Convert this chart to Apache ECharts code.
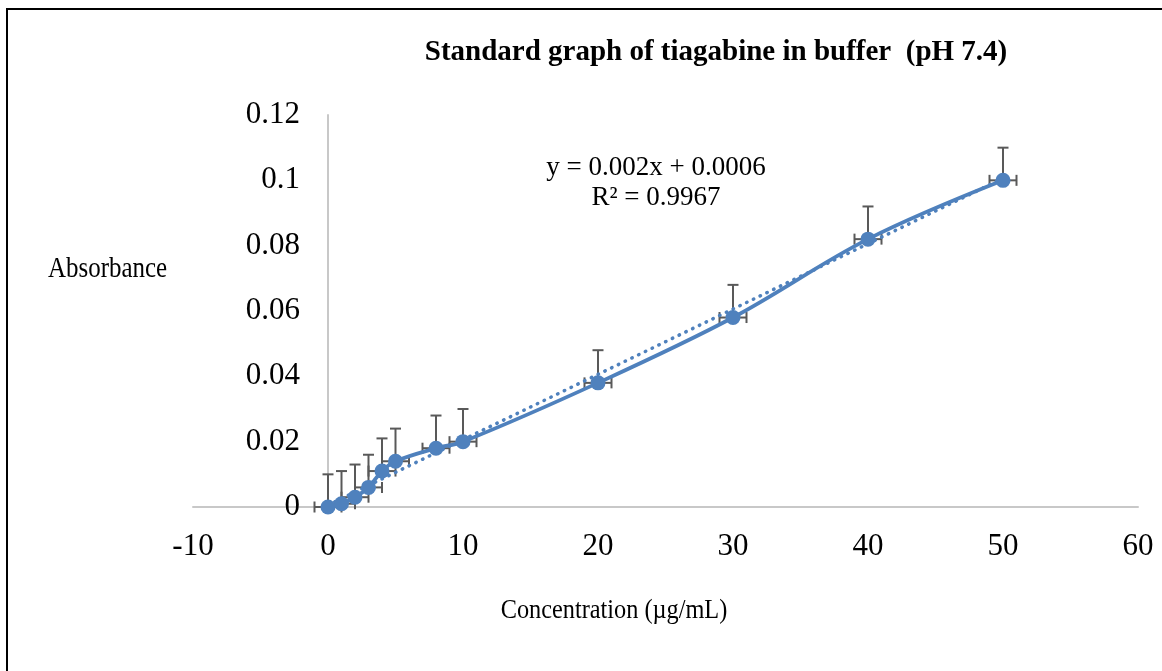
<!DOCTYPE html>
<html>
<head>
<meta charset="utf-8">
<script src="https://cdn.jsdelivr.net/npm/echarts@6/dist/echarts.min.js"></script>
<style>
html,body{margin:0;padding:0;background:#fff;}
#chart{width:1162px;height:671px;}
</style>
</head>
<body>
<div id="chart"></div>
<script>
// Data
const concentrations = [0, 1, 2, 3, 4, 5, 8, 10, 20, 30, 40, 50];
const absorbances = [0, 0.001, 0.003, 0.006, 0.011, 0.014, 0.018, 0.020, 0.038, 0.058, 0.082, 0.100];
const yErrorUp = [0.01, 0.01, 0.01, 0.01, 0.01, 0.01, 0.01, 0.01, 0.01, 0.01, 0.01, 0.01];
const xErrors = [1, 1, 1, 1, 1, 1, 1, 1, 1, 1, 1, 1];
const trendX = [0, 50];
const trendY = [0.0006, 0.1006];
const xTickLabels = ['-10', '0', '10', '20', '30', '40', '50', '60'];
const yTickLabels = ['0', '0.02', '0.04', '0.06', '0.08', '0.1', '0.12'];
const titleText = 'Standard graph of tiagabine in buffer  (pH 7.4)';
const equationText = 'y = 0.002x + 0.0006';
const r2Text = 'R² = 0.9967';
const yName = 'Absorbance';
const xName = 'Concentration (µg/mL)';

const blue = '#4F81BD';
const errColor = '#595959';
const serif = '"Liberation Serif", "Times New Roman", serif';

const mainData = concentrations.map((x, i) => [x, absorbances[i]]);
const errData = concentrations.map((x, i) => [x, absorbances[i], yErrorUp[i], xErrors[i]]);
const trendData = trendX.map((x, i) => [x, trendY[i]]);

const chart = echarts.init(document.getElementById('chart'), null, {renderer: 'canvas'});

function renderErr(params, api) {
  const x = api.value(0), y = api.value(1), ey = api.value(2), ex = api.value(3);
  const p = api.coord([x, y]);
  const top = api.coord([x, y + ey]);
  const l = api.coord([x - ex, y]);
  const r = api.coord([x + ex, y]);
  const cap = 5.5;
  const st = {stroke: errColor, lineWidth: 2};
  return {
    type: 'group',
    children: [
      {type: 'line', shape: {x1: p[0], y1: p[1], x2: top[0], y2: top[1]}, style: st},
      {type: 'line', shape: {x1: top[0] - cap, y1: top[1], x2: top[0] + cap, y2: top[1]}, style: st},
      {type: 'line', shape: {x1: l[0], y1: l[1], x2: r[0], y2: r[1]}, style: st},
      {type: 'line', shape: {x1: l[0], y1: l[1] - cap, x2: l[0], y2: l[1] + cap}, style: st},
      {type: 'line', shape: {x1: r[0], y1: r[1] - cap, x2: r[0], y2: r[1] + cap}, style: st}
    ]
  };
}

const option = {
  backgroundColor: '#fff',
  animation: false,
  grid: {left: 193, right: 24, top: 115, bottom: 164, containLabel: false},
  xAxis: {
    type: 'value', min: -10, max: 60, interval: 10,
    axisLine: {show: true, onZero: true, lineStyle: {color: '#c8c8c8', width: 2}},
    axisTick: {show: false},
    splitLine: {show: false},
    axisLabel: {
      color: '#000', fontFamily: serif, fontSize: 31, margin: 24,
      formatter: (v) => xTickLabels[Math.round((v + 10) / 10)]
    }
  },
  yAxis: {
    type: 'value', min: 0, max: 0.12, interval: 0.02,
    axisLine: {show: true, onZero: true, lineStyle: {color: '#c8c8c8', width: 2}},
    axisTick: {show: false},
    splitLine: {show: false},
    axisLabel: {
      color: '#000', fontFamily: serif, fontSize: 31, margin: -107, align: 'right',
      padding: [4, 0, 0, 0],
      formatter: (v) => yTickLabels[Math.round(v / 0.02)]
    }
  },
  series: [
    {
      type: 'custom', name: 'err', renderItem: renderErr, data: errData,
      encode: {x: 0, y: 1}, z: 1, silent: true
    },
    {
      type: 'line', name: 'trend', data: trendData, showSymbol: false, symbol: 'none',
      lineStyle: {color: blue, width: 3.5, type: [0.5, 7], cap: 'round'}, z: 2, silent: true
    },
    {
      type: 'line', name: 'abs', data: mainData, smooth: 0.35,
      symbol: 'circle', symbolSize: 15,
      itemStyle: {color: blue},
      lineStyle: {color: blue, width: 3.8}, z: 3
    }
  ],
  graphic: [
    {type: 'rect', shape: {x: 7, y: 9, width: 1200, height: 720},
     style: {fill: 'none', stroke: '#000', lineWidth: 2}, silent: true, z: 100},
    {type: 'text', x: 716, y: 53,
     style: {text: titleText, fill: '#000', font: 'bold 29px ' + serif, align: 'center', verticalAlign: 'middle'}},
    {type: 'text', x: 656, y: 168,
     style: {text: equationText, fill: '#000', font: '27px ' + serif, align: 'center', verticalAlign: 'middle'}},
    {type: 'text', x: 656, y: 198,
     style: {text: r2Text, fill: '#000', font: '27px ' + serif, align: 'center', verticalAlign: 'middle'}},
    {type: 'text', x: 48, y: 269, scaleX: 0.86,
     style: {text: yName, fill: '#000', font: '29px ' + serif, align: 'left', verticalAlign: 'middle'}},
    {type: 'text', x: 614, y: 611, scaleX: 0.9,
     style: {text: xName, fill: '#000', font: '27px ' + serif, align: 'center', verticalAlign: 'middle'}}
  ]
};
chart.setOption(option);
</script>
</body>
</html>
